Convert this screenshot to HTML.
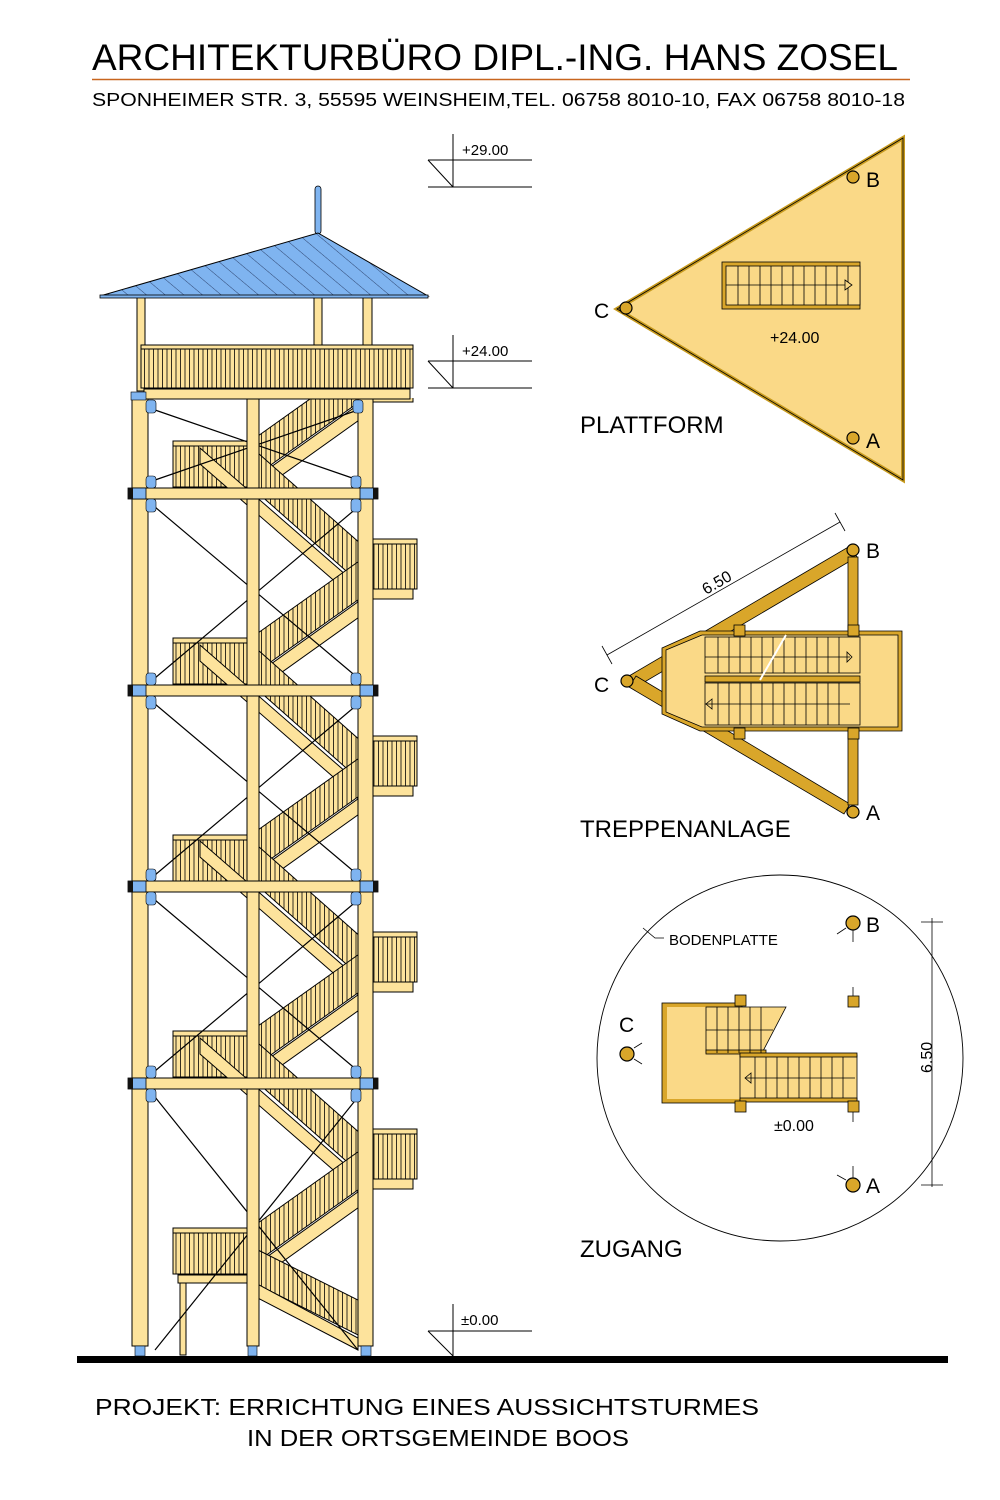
<!DOCTYPE html>
<html><head><meta charset="utf-8"><style>
html,body{margin:0;padding:0;background:#fff}
svg{display:block}
text{font-family:"Liberation Sans",Arial,sans-serif;fill:#000}
</style></head><body>
<svg width="1000" height="1500" viewBox="0 0 1000 1500" xmlns="http://www.w3.org/2000/svg">
<defs>
<pattern id="rail" width="4.5" height="10" patternUnits="userSpaceOnUse">
<rect width="4.5" height="10" fill="#fde39c"/><line x1="0.5" y1="0" x2="0.5" y2="10" stroke="#000" stroke-width="0.8"/>
</pattern>
<pattern id="roof" width="12" height="12" patternUnits="userSpaceOnUse" patternTransform="rotate(-50)">
<rect width="12" height="12" fill="#7fb4f0"/><line x1="0" y1="0" x2="0" y2="12" stroke="#1a2a50" stroke-width="0.8"/>
</pattern>
<g id="storey">
<polygon points="258,-40 362,52 362,92 258,0" fill="url(#rail)" stroke="#000" stroke-width="1"/>
<polygon points="200,-45 362,96 362,112 200,-29" fill="#fde39c" stroke="#000" stroke-width="1"/>
<polygon points="362,66 258,140 258,178 362,104" fill="url(#rail)" stroke="#000" stroke-width="1"/>
<polygon points="362,106 250,186 250,202 362,122" fill="#fde39c" stroke="#000" stroke-width="1"/>
<rect x="372" y="48" width="45" height="48" fill="url(#rail)" stroke="#000"/>
<rect x="372" y="46" width="45" height="5" fill="#fde39c" stroke="#000"/>
<rect x="372" y="96" width="41" height="10" fill="#fde39c" stroke="#000"/>
<rect x="173" y="147" width="77" height="44" fill="url(#rail)" stroke="#000"/>
<rect x="173" y="145" width="77" height="5" fill="#fde39c" stroke="#000"/>
</g>
<g id="cab">
<line x1="155" y1="14" x2="358" y2="185" stroke="#000" stroke-width="1.2"/>
<line x1="358" y1="14" x2="155" y2="185" stroke="#000" stroke-width="1.2"/>
</g>
<g id="beam">
<rect x="133" y="-5" width="239" height="11" fill="#fde39c" stroke="#000"/>
<rect x="128" y="-5" width="18" height="11" fill="#7fb4f0" stroke="#000" stroke-width="0.8"/>
<rect x="128" y="-5" width="5" height="11" fill="#111"/>
<rect x="360" y="-5" width="18" height="11" fill="#7fb4f0" stroke="#000" stroke-width="0.8"/>
<rect x="373" y="-5" width="5" height="11" fill="#111"/>
<rect x="146" y="-17" width="10" height="12" rx="3" fill="#7fb4f0" stroke="#000" stroke-width="0.6"/>
<rect x="146" y="6" width="10" height="13" rx="3" fill="#7fb4f0" stroke="#000" stroke-width="0.6"/>
<rect x="351" y="-17" width="10" height="12" rx="3" fill="#7fb4f0" stroke="#000" stroke-width="0.6"/>
<rect x="351" y="6" width="10" height="13" rx="3" fill="#7fb4f0" stroke="#000" stroke-width="0.6"/>
</g>
<clipPath id="below398"><rect x="0" y="398" width="600" height="1000"/></clipPath>
</defs>

<text x="92" y="70" font-size="37" textLength="806" lengthAdjust="spacingAndGlyphs">ARCHITEKTURBÜRO DIPL.-ING. HANS ZOSEL</text>
<line x1="92" y1="79.5" x2="910" y2="79.5" stroke="#c8651e" stroke-width="1.5"/>
<text x="92" y="106" font-size="18" textLength="813" lengthAdjust="spacingAndGlyphs">SPONHEIMER STR. 3,  55595 WEINSHEIM,TEL. 06758 8010-10, FAX 06758 8010-18</text>

<g stroke="#000" stroke-width="1" fill="none">
<line x1="453" y1="134" x2="453" y2="187"/><line x1="428" y1="160" x2="532" y2="160"/><line x1="428" y1="187" x2="532" y2="187"/><line x1="428" y1="160" x2="453" y2="187"/>
<line x1="453" y1="335" x2="453" y2="388"/><line x1="428" y1="361" x2="532" y2="361"/><line x1="428" y1="388" x2="532" y2="388"/><line x1="428" y1="361" x2="453" y2="388"/>
<line x1="453" y1="1304" x2="453" y2="1356"/><line x1="428" y1="1331" x2="532" y2="1331"/><line x1="428" y1="1331" x2="453" y2="1356"/>
</g>
<text x="462" y="155" font-size="15">+29.00</text>
<text x="462" y="356" font-size="15">+24.00</text>
<text x="461" y="1325" font-size="15">±0.00</text>

<g clip-path="url(#below398)"><use href="#storey" transform="translate(0,296)"/></g>
<use href="#storey" transform="translate(0,493)"/>
<use href="#storey" transform="translate(0,690)"/>
<use href="#storey" transform="translate(0,886)"/>
<use href="#storey" transform="translate(0,1083)"/>
<polygon points="258,1250 358,1300 358,1335 258,1285" fill="url(#rail)" stroke="#000"/>
<polygon points="250,1280 358,1338 358,1350 250,1294" fill="#fde39c" stroke="#000"/>
<rect x="178" y="1275" width="72" height="8" fill="#fde39c" stroke="#000"/>
<rect x="180" y="1283" width="6" height="72" fill="#fde39c" stroke="#000"/>

<!-- cables -->
<line x1="155" y1="410" x2="358" y2="480" stroke="#000" stroke-width="1.2"/>
<line x1="358" y1="410" x2="155" y2="480" stroke="#000" stroke-width="1.2"/>
<use href="#cab" transform="translate(0,493)"/>
<use href="#cab" transform="translate(0,690)"/>
<use href="#cab" transform="translate(0,886)"/>
<line x1="155" y1="1097" x2="358" y2="1350" stroke="#000" stroke-width="1.2"/>
<line x1="358" y1="1097" x2="155" y2="1350" stroke="#000" stroke-width="1.2"/>

<rect x="132" y="398" width="16" height="948" fill="#fde39c" stroke="#000"/>
<rect x="247" y="398" width="12" height="948" fill="#fde39c" stroke="#000"/>
<rect x="358" y="398" width="15" height="948" fill="#fde39c" stroke="#000"/>
<rect x="135" y="1346" width="10" height="10" fill="#7fb4f0" stroke="#000" stroke-width="0.6"/>
<rect x="248" y="1346" width="9" height="10" fill="#7fb4f0" stroke="#000" stroke-width="0.6"/>
<rect x="361" y="1346" width="10" height="10" fill="#7fb4f0" stroke="#000" stroke-width="0.6"/>

<use href="#beam" transform="translate(0,493)"/>
<use href="#beam" transform="translate(0,690)"/>
<use href="#beam" transform="translate(0,886)"/>
<use href="#beam" transform="translate(0,1083)"/>

<rect x="137" y="296" width="8" height="95" fill="#fde39c" stroke="#000"/>
<rect x="314" y="296" width="8" height="50" fill="#fde39c" stroke="#000"/>
<rect x="363" y="296" width="9" height="50" fill="#fde39c" stroke="#000"/>
<rect x="141" y="345" width="272" height="43" fill="url(#rail)" stroke="#000"/>
<rect x="141" y="345" width="272" height="4" fill="#fde39c" stroke="#000"/>
<rect x="144" y="389" width="266" height="10" fill="#fde39c" stroke="#000"/>
<rect x="131" y="392" width="15" height="8" fill="#7fb4f0" stroke="#000" stroke-width="0.6"/>
<rect x="146" y="400" width="10" height="13" rx="3" fill="#7fb4f0" stroke="#000" stroke-width="0.6"/>
<rect x="353" y="400" width="10" height="13" rx="3" fill="#7fb4f0" stroke="#000" stroke-width="0.6"/>
<rect x="315" y="186" width="6" height="48" rx="3" fill="#7fb4f0" stroke="#000" stroke-width="0.8"/>
<polygon points="100,296 318,233 428,296" fill="url(#roof)" stroke="#000" stroke-width="1"/>
<rect x="100" y="295" width="328" height="3" fill="#7fb4f0" stroke="#000" stroke-width="0.8"/>

<rect x="77" y="1356" width="871" height="7" fill="#000"/>

<polygon points="617,309 903,138 903,480" fill="#fad987" stroke="#c79a1e" stroke-width="4" stroke-linejoin="miter"/>
<polygon points="617,309 903,138 903,480" fill="none" stroke="#000" stroke-width="0.8"/>
<rect x="722" y="262" width="138" height="47" fill="#d9a62a" stroke="#000" stroke-width="0.8"/>
<rect x="726" y="266" width="134" height="39" fill="#fad987" stroke="#000" stroke-width="0.8"/>
<g stroke="#000" stroke-width="0.8">
<line x1="726" y1="285" x2="850" y2="285"/>
<line x1="738" y1="266" x2="738" y2="305"/><line x1="749" y1="266" x2="749" y2="305"/><line x1="760" y1="266" x2="760" y2="305"/><line x1="771" y1="266" x2="771" y2="305"/><line x1="782" y1="266" x2="782" y2="305"/><line x1="793" y1="266" x2="793" y2="305"/><line x1="804" y1="266" x2="804" y2="305"/><line x1="815" y1="266" x2="815" y2="305"/><line x1="826" y1="266" x2="826" y2="305"/><line x1="837" y1="266" x2="837" y2="305"/><line x1="848" y1="266" x2="848" y2="305"/>
</g>
<polygon points="845,280 852,285 845,290" fill="#fad987" stroke="#000" stroke-width="0.8"/>
<text x="770" y="343" font-size="16">+24.00</text>
<g fill="#d9a62a" stroke="#000" stroke-width="1.2">
<circle cx="626" cy="308" r="6"/><circle cx="853" cy="177" r="6"/><circle cx="853" cy="438" r="6"/>
</g>
<text x="594" y="318" font-size="21">C</text>
<text x="866" y="187" font-size="21">B</text>
<text x="866" y="448" font-size="21">A</text>
<text x="580" y="433" font-size="24">PLATTFORM</text>

<g stroke="#000" stroke-width="0.8">
<polygon points="629,676 850,546 857,557 636,687" fill="#d9a62a"/>
<polygon points="636,676 850,804 844,814 629,687" fill="#d9a62a"/>
<rect x="848" y="557" width="10" height="248" fill="#d9a62a"/>
<polygon points="662,648 700,631 902,631 902,731 700,731 662,714" fill="#d9a62a"/>
<polygon points="666,650 702,635 898,635 898,727 702,727 666,712" fill="#fad987"/>
<rect x="705" y="637" width="155" height="36" fill="#fad987"/>
<rect x="705" y="683" width="155" height="42" fill="#fad987"/>
<rect x="705" y="676" width="155" height="6" fill="#d9a62a"/>
<line x1="705" y1="657" x2="850" y2="657"/><line x1="705" y1="704" x2="850" y2="704"/>
<line x1="718" y1="637" x2="718" y2="673"/><line x1="729" y1="637" x2="729" y2="673"/><line x1="740" y1="637" x2="740" y2="673"/><line x1="751" y1="637" x2="751" y2="673"/><line x1="762" y1="637" x2="762" y2="673"/><line x1="773" y1="637" x2="773" y2="673"/><line x1="784" y1="637" x2="784" y2="673"/><line x1="795" y1="637" x2="795" y2="673"/><line x1="806" y1="637" x2="806" y2="673"/><line x1="817" y1="637" x2="817" y2="673"/><line x1="828" y1="637" x2="828" y2="673"/><line x1="839" y1="637" x2="839" y2="673"/>
<line x1="718" y1="683" x2="718" y2="725"/><line x1="729" y1="683" x2="729" y2="725"/><line x1="740" y1="683" x2="740" y2="725"/><line x1="751" y1="683" x2="751" y2="725"/><line x1="762" y1="683" x2="762" y2="725"/><line x1="773" y1="683" x2="773" y2="725"/><line x1="784" y1="683" x2="784" y2="725"/><line x1="795" y1="683" x2="795" y2="725"/><line x1="806" y1="683" x2="806" y2="725"/><line x1="817" y1="683" x2="817" y2="725"/><line x1="828" y1="683" x2="828" y2="725"/><line x1="839" y1="683" x2="839" y2="725"/>
<line x1="786" y1="635" x2="760" y2="680" stroke="#fff" stroke-width="2"/>
<rect x="734" y="625" width="11" height="11" fill="#d9a62a"/><rect x="848" y="625" width="11" height="11" fill="#d9a62a"/>
<rect x="734" y="728" width="11" height="11" fill="#d9a62a"/><rect x="848" y="728" width="11" height="11" fill="#d9a62a"/>
<circle cx="627" cy="681" r="6" fill="#d9a62a" stroke-width="1.2"/>
<circle cx="853" cy="550" r="6" fill="#d9a62a" stroke-width="1.2"/>
<circle cx="853" cy="812" r="6" fill="#d9a62a" stroke-width="1.2"/>
<line x1="607" y1="655" x2="840" y2="522"/>
<line x1="602" y1="646" x2="612" y2="664"/><line x1="835" y1="513" x2="845" y2="531"/>
</g>
<polygon points="847,652 852,657 847,662" fill="none" stroke="#000" stroke-width="0.8"/>
<polygon points="712,699 706,704 712,709" fill="none" stroke="#000" stroke-width="0.8"/>
<text x="0" y="0" font-size="16" transform="translate(706,595) rotate(-30)">6.50</text>
<text x="594" y="692" font-size="21">C</text>
<text x="866" y="558" font-size="21">B</text>
<text x="866" y="820" font-size="21">A</text>
<text x="580" y="837" font-size="24">TREPPENANLAGE</text>

<circle cx="780" cy="1058" r="183" fill="#fff" stroke="#000" stroke-width="0.9"/>
<polyline points="643,928 655,938 664,938" fill="none" stroke="#000" stroke-width="0.8"/>
<text x="669" y="945" font-size="15">BODENPLATTE</text>
<g stroke="#000" stroke-width="0.8">
<rect x="662" y="1003" width="80" height="100" fill="#d9a62a"/>
<rect x="667" y="1007" width="75" height="92" fill="#fad987" stroke="none"/>
<polygon points="706,1007 786,1007 762,1053 706,1053" fill="#fad987"/>
<rect x="706" y="1050" width="60" height="4" fill="#d9a62a"/>
<rect x="740" y="1055" width="117" height="45" fill="#fad987"/>
<rect x="740" y="1053" width="117" height="4" fill="#d9a62a"/>
<rect x="740" y="1098" width="117" height="4" fill="#d9a62a"/>
<line x1="706" y1="1030" x2="773" y2="1030"/><line x1="745" y1="1078" x2="855" y2="1078"/>
<line x1="717" y1="1007" x2="717" y2="1053"/><line x1="728" y1="1007" x2="728" y2="1053"/><line x1="739" y1="1007" x2="739" y2="1053"/><line x1="750" y1="1007" x2="750" y2="1053"/><line x1="761" y1="1007" x2="761" y2="1053"/>
<line x1="755" y1="1057" x2="755" y2="1098"/><line x1="766" y1="1057" x2="766" y2="1098"/><line x1="777" y1="1057" x2="777" y2="1098"/><line x1="788" y1="1057" x2="788" y2="1098"/><line x1="799" y1="1057" x2="799" y2="1098"/><line x1="810" y1="1057" x2="810" y2="1098"/><line x1="821" y1="1057" x2="821" y2="1098"/><line x1="832" y1="1057" x2="832" y2="1098"/><line x1="843" y1="1057" x2="843" y2="1098"/>
<rect x="735" y="995" width="11" height="11" fill="#d9a62a"/>
<rect x="735" y="1101" width="11" height="11" fill="#d9a62a"/>
<rect x="848" y="1101" width="11" height="11" fill="#d9a62a"/>
<rect x="848" y="996" width="11" height="11" fill="#d9a62a"/>
<line x1="853" y1="987" x2="853" y2="996"/><line x1="853" y1="1112" x2="853" y2="1122"/>
<circle cx="853" cy="923" r="7" fill="#d9a62a" stroke-width="1.2"/>
<line x1="853" y1="930" x2="853" y2="942"/><line x1="846" y1="928" x2="837" y2="934"/>
<circle cx="627" cy="1054" r="7" fill="#d9a62a" stroke-width="1.2"/>
<line x1="634" y1="1048" x2="642" y2="1043"/><line x1="634" y1="1059" x2="642" y2="1064"/>
<circle cx="853" cy="1185" r="7" fill="#d9a62a" stroke-width="1.2"/>
<line x1="853" y1="1166" x2="853" y2="1178"/><line x1="846" y1="1180" x2="837" y2="1175"/>
<line x1="932" y1="918" x2="932" y2="1187"/><line x1="921" y1="922" x2="943" y2="922"/><line x1="921" y1="1185" x2="943" y2="1185"/>
</g>
<polygon points="751,1073 745,1078 751,1083" fill="none" stroke="#000" stroke-width="0.8"/>
<text x="0" y="0" font-size="16" transform="translate(932,1073) rotate(-90)">6.50</text>
<text x="774" y="1131" font-size="16">±0.00</text>
<text x="619" y="1032" font-size="21">C</text>
<text x="866" y="932" font-size="21">B</text>
<text x="866" y="1193" font-size="21">A</text>
<text x="580" y="1257" font-size="24">ZUGANG</text>

<text x="95" y="1415" font-size="23" textLength="664" lengthAdjust="spacingAndGlyphs">PROJEKT:  ERRICHTUNG EINES AUSSICHTSTURMES</text>
<text x="247" y="1446" font-size="23" textLength="382" lengthAdjust="spacingAndGlyphs">IN DER ORTSGEMEINDE BOOS</text>
</svg>
</body></html>
